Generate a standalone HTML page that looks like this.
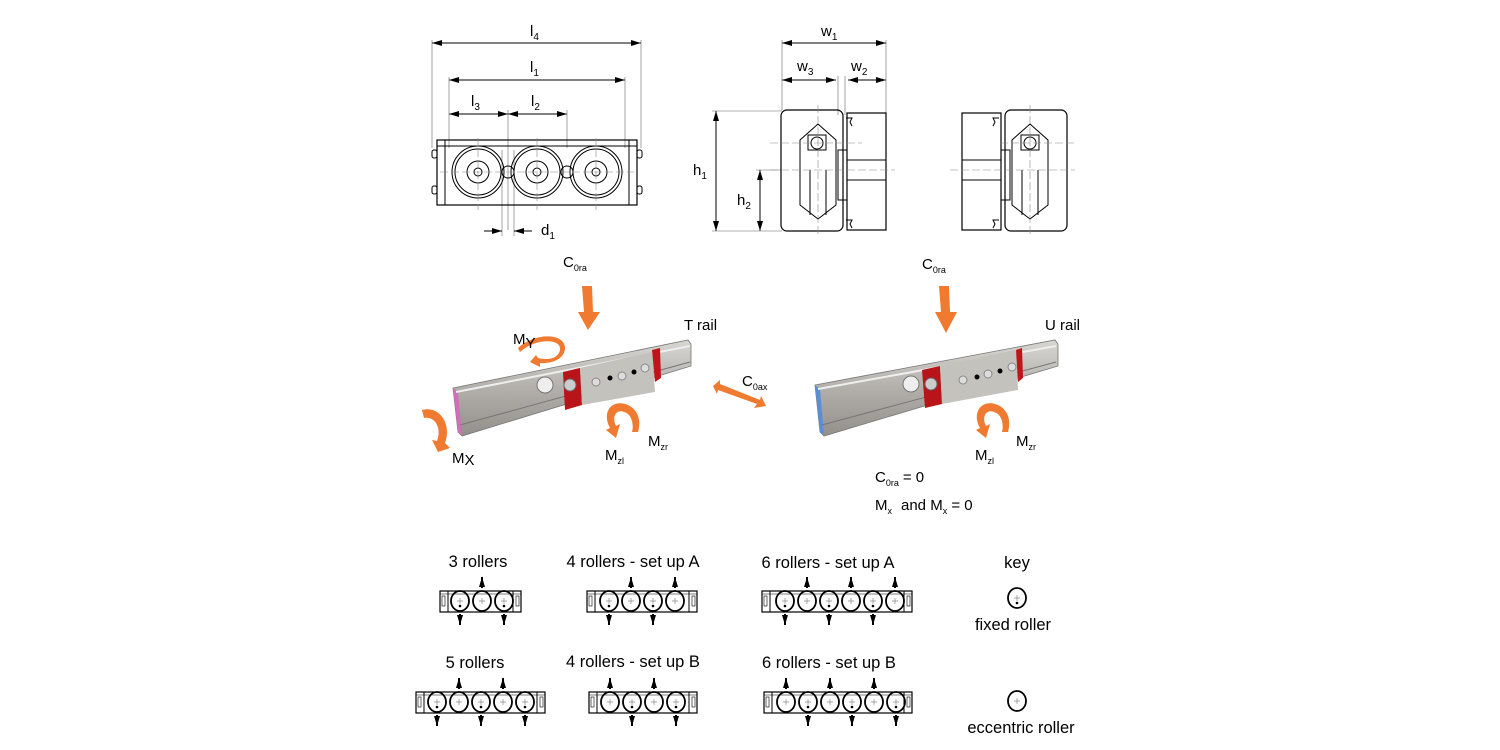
<!DOCTYPE html>
<html><head><meta charset="utf-8"><style>
html,body{margin:0;padding:0;background:#fff;}
svg{display:block;font-family:"Liberation Sans",sans-serif;}
</style></head><body>
<svg id="s" width="1500" height="750" viewBox="0 0 1500 750" xmlns="http://www.w3.org/2000/svg">
<defs>
<marker id="a" viewBox="0 0 10 6" refX="10" refY="3" markerWidth="10" markerHeight="6" orient="auto-start-reverse" markerUnits="userSpaceOnUse"><path d="M0,0L10,3L0,6z" fill="#000"/></marker>
<linearGradient id="rg" x1="0" y1="0" x2="0" y2="1"><stop offset="0" stop-color="#d8d6d2"/><stop offset="0.5" stop-color="#b3b0ab"/><stop offset="1" stop-color="#938f8a"/></linearGradient>
</defs>
<g stroke="#000" stroke-width="1" fill="none">
<line x1="432" y1="43" x2="641" y2="43" marker-start="url(#a)" marker-end="url(#a)"/>
<line x1="449" y1="80" x2="625" y2="80" marker-start="url(#a)" marker-end="url(#a)"/>
<line x1="449" y1="114" x2="508" y2="114" marker-start="url(#a)" marker-end="url(#a)"/>
<line x1="508" y1="114" x2="567" y2="114" marker-start="url(#a)" marker-end="url(#a)"/>
<g stroke="#666" stroke-width="0.6">
<line x1="432" y1="40" x2="432" y2="148"/><line x1="641" y1="40" x2="641" y2="148"/>
<line x1="449" y1="77" x2="449" y2="148"/><line x1="625" y1="77" x2="625" y2="148"/>
<line x1="508" y1="110" x2="508" y2="230"/><line x1="567" y1="110" x2="567" y2="148"/>
<line x1="502" y1="150" x2="502" y2="236"/><line x1="514" y1="150" x2="514" y2="236"/>
</g>
<line x1="484" y1="231" x2="502" y2="231" marker-end="url(#a)"/>
<line x1="532" y1="231" x2="514" y2="231" marker-end="url(#a)"/>
<rect x="437" y="140" width="200" height="65" stroke-width="1.2"/>
<line x1="437" y1="146" x2="637" y2="146"/><line x1="445" y1="140" x2="445" y2="205"/><line x1="629" y1="140" x2="629" y2="205"/>
<rect x="432" y="150" width="5" height="8" rx="2"/><rect x="432" y="186" width="5" height="8" rx="2"/>
<rect x="637" y="150" width="5" height="8" rx="2"/><rect x="637" y="186" width="5" height="8" rx="2"/>
<g>
<circle cx="478" cy="172" r="26"/><circle cx="478" cy="172" r="23"/><circle cx="478" cy="172" r="11"/><circle cx="478" cy="172" r="4"/>
<circle cx="537" cy="172" r="26"/><circle cx="537" cy="172" r="23"/><circle cx="537" cy="172" r="11"/><circle cx="537" cy="172" r="4"/>
<circle cx="596" cy="172" r="26"/><circle cx="596" cy="172" r="23"/><circle cx="596" cy="172" r="11"/><circle cx="596" cy="172" r="4"/>
<circle cx="508" cy="172" r="6"/><circle cx="567" cy="172" r="6"/>
</g>
<g stroke="#888" stroke-width="0.6" stroke-dasharray="8,3">
<line x1="440" y1="172" x2="634" y2="172"/>
<line x1="478" y1="138" x2="478" y2="210"/><line x1="537" y1="138" x2="537" y2="210"/><line x1="596" y1="138" x2="596" y2="210"/>
</g>
<line x1="782" y1="43" x2="886" y2="43" marker-start="url(#a)" marker-end="url(#a)"/>
<line x1="782" y1="80" x2="836" y2="80" marker-start="url(#a)" marker-end="url(#a)"/>
<line x1="848" y1="80" x2="886" y2="80" marker-start="url(#a)" marker-end="url(#a)"/>
<line x1="716" y1="111" x2="716" y2="231" marker-start="url(#a)" marker-end="url(#a)"/>
<line x1="760" y1="170" x2="760" y2="231" marker-start="url(#a)" marker-end="url(#a)"/>
<g stroke="#666" stroke-width="0.6">
<line x1="782" y1="40" x2="782" y2="110"/><line x1="886" y1="40" x2="886" y2="113"/>
<line x1="838" y1="76" x2="838" y2="115"/><line x1="845" y1="76" x2="845" y2="115"/>
<line x1="712" y1="111" x2="782" y2="111"/><line x1="712" y1="231" x2="782" y2="231"/><line x1="756" y1="170" x2="782" y2="170"/>
</g>
<rect x="781" y="110" width="62" height="121" rx="6" stroke-width="1.2"/>
<rect x="847" y="113" width="39" height="117" stroke-width="1.2"/>
<path d="M800,140 L818,124 L836,140 L836,205 L818,219 L800,205 Z"/>
<rect x="808" y="135" width="18" height="15"/><circle cx="817" cy="143" r="6"/>
<line x1="810" y1="170" x2="810" y2="215"/><line x1="826" y1="170" x2="826" y2="215"/>
<rect x="838" y="150" width="9" height="50"/>
<rect x="847" y="160" width="39" height="20"/>
<g stroke="#888" stroke-width="0.6" stroke-dasharray="8,3">
<line x1="770" y1="143" x2="862" y2="143"/><line x1="770" y1="170" x2="895" y2="170"/><line x1="818" y1="105" x2="818" y2="237"/>
</g>
<path d="M846,118 l6,0 l-2,4 l2,4" /><path d="M846,220 l6,0 l-2,4 l2,4"/>
<rect x="962" y="113" width="39" height="117" stroke-width="1.2"/>
<rect x="1005" y="110" width="62" height="121" rx="6" stroke-width="1.2"/>
<path d="M1012,140 L1030,124 L1048,140 L1048,205 L1030,219 L1012,205 Z"/>
<rect x="1021" y="135" width="18" height="15"/><circle cx="1030" cy="143" r="6"/>
<line x1="1022" y1="170" x2="1022" y2="215"/><line x1="1038" y1="170" x2="1038" y2="215"/>
<rect x="1001" y="150" width="9" height="50"/>
<rect x="962" y="160" width="39" height="20"/>
<g stroke="#888" stroke-width="0.6" stroke-dasharray="8,3">
<line x1="950" y1="170" x2="1075" y2="170"/><line x1="1000" y1="143" x2="1075" y2="143"/><line x1="1030" y1="105" x2="1030" y2="237"/>
</g>
<path d="M999,118 l-6,0 l2,4 l-2,4" /><path d="M999,220 l-6,0 l2,4 l-2,4"/>
</g>
<g font-size="15" fill="#000">
<text x="530" y="36">l<tspan font-size="10" dy="4">4</tspan></text>
<text x="530" y="72">l<tspan font-size="10" dy="4">1</tspan></text>
<text x="471" y="106">l<tspan font-size="10" dy="4">3</tspan></text>
<text x="531" y="106">l<tspan font-size="10" dy="4">2</tspan></text>
<text x="541" y="235">d<tspan font-size="10" dy="4">1</tspan></text>
<text x="821" y="36">w<tspan font-size="10" dy="4">1</tspan></text>
<text x="797" y="71">w<tspan font-size="10" dy="4">3</tspan></text>
<text x="851" y="71">w<tspan font-size="10" dy="4">2</tspan></text>
<text x="693" y="175">h<tspan font-size="10" dy="4">1</tspan></text>
<text x="737" y="205">h<tspan font-size="10" dy="4">2</tspan></text>
</g>
<!-- T rail -->
<polygon points="453,388 688,340 691,344 691,366 462,436 458,432" fill="url(#rg)" stroke="#777" stroke-width="0.8"/>
<polygon points="453,388 458,392 462,436 458,432" fill="#d070b8"/>
<line x1="456" y1="392" x2="690" y2="346" stroke="#eee" stroke-width="2"/>
<line x1="460" y1="425" x2="690" y2="362" stroke="#777" stroke-width="1"/>
<polygon points="563,372 580,368 582,405 565,410" fill="#b8141a"/>
<polygon points="580,368 652,352 655,392 582,405" fill="#c4c2bd"/>
<polygon points="652,350 660,348 661,378 655,382" fill="#c0141a"/>
<circle cx="545" cy="385" r="8" fill="#eee" stroke="#777"/>
<circle cx="570" cy="385" r="6" fill="#ccc" stroke="#666"/>
<circle cx="596" cy="382" r="4" fill="#ddd" stroke="#888"/><circle cx="610" cy="378" r="2.5" fill="#000"/>
<circle cx="622" cy="376" r="4" fill="#ddd" stroke="#888"/><circle cx="634" cy="372" r="2.5" fill="#000"/>
<circle cx="645" cy="368" r="4" fill="#ddd" stroke="#888"/>
<!-- U rail -->
<polygon points="815,385 1055,340 1058,344 1058,366 824,436 820,432" fill="url(#rg)" stroke="#777" stroke-width="0.8"/>
<polygon points="815,385 820,389 824,436 820,432" fill="#5b8ed8"/>
<line x1="818" y1="389" x2="1056" y2="346" stroke="#eee" stroke-width="2"/>
<line x1="822" y1="425" x2="1056" y2="362" stroke="#777" stroke-width="1"/>
<polygon points="922,370 940,366 942,404 925,408" fill="#b8141a"/>
<polygon points="940,366 1016,350 1018,390 942,404" fill="#c4c2bd"/>
<polygon points="1016,350 1022,348 1023,378 1018,382" fill="#c0141a"/>
<circle cx="911" cy="384" r="8" fill="#eee" stroke="#777"/>
<circle cx="931" cy="384" r="6" fill="#ccc" stroke="#666"/>
<circle cx="963" cy="380" r="4" fill="#ddd" stroke="#888"/><circle cx="977" cy="377" r="2.5" fill="#000"/>
<circle cx="988" cy="374" r="4" fill="#ddd" stroke="#888"/><circle cx="1000" cy="371" r="2.5" fill="#000"/>
<circle cx="1012" cy="367" r="4" fill="#ddd" stroke="#888"/>
<g fill="#f07a30">
<polygon points="582,286 592,286 593,312 600,312 588,330 578,312 584,312"/>
<polygon points="939,286 949,286 950,312 957,312 946,333 935,312 941,312"/>
<polygon points="713,386 720,380 720,384 760,400 761,396 766,406 754,408 757,404 718,390 717,394"/>
<path d="M520,352 C535,338 562,338 560,350 C558,360 545,360 538,358 L536,355 L530,362 L540,367 L540,363 C555,364 565,357 565,348 C565,333 535,332 518,348 Z"/>
<path d="M422,410 C440,405 452,425 445,443 L450,448 L438,452 L432,440 L437,441 C442,428 435,416 424,418 Z"/>
<path d="M625,404 C610,400 602,414 610,428 L606,430 L616,438 L620,424 L616,426 C611,416 617,409 624,412 C632,414 634,425 632,432 L638,432 C642,418 636,407 625,404 Z"/>
<path d="M995,404 C980,400 972,414 980,428 L976,430 L986,438 L990,424 L986,426 C981,416 987,409 994,412 C1002,414 1004,425 1002,432 L1008,432 C1012,418 1006,407 995,404 Z"/>
</g>
<g font-size="15" fill="#000">
<text x="563" y="267">C<tspan font-size="9" dy="4">0ra</tspan></text>
<text x="922" y="269">C<tspan font-size="9" dy="4">0ra</tspan></text>
<text x="684" y="330">T rail</text>
<text x="1045" y="330">U rail</text>
<text x="513" y="344">M<tspan dy="4">Y</tspan></text>
<text x="742" y="386">C<tspan font-size="9" dy="4">0ax</tspan></text>
<text x="452" y="463">M<tspan dy="2">X</tspan></text>
<text x="605" y="460">M<tspan font-size="9" dy="4">zl</tspan></text>
<text x="648" y="446">M<tspan font-size="9" dy="4">zr</tspan></text>
<text x="975" y="460">M<tspan font-size="9" dy="4">zl</tspan></text>
<text x="1016" y="446">M<tspan font-size="9" dy="4">zr</tspan></text>
<text x="875" y="482">C<tspan font-size="9" dy="4">0ra</tspan><tspan dy="-4" dx="4">= 0</tspan></text>
<text x="875" y="510">M<tspan font-size="9" dy="4">x</tspan><tspan dy="-4" dx="9">and M</tspan><tspan font-size="9" dy="4">x</tspan><tspan dy="-4"> = 0</tspan></text>
<g font-size="16.5" text-anchor="middle">
<text x="478" y="567">3 rollers</text>
<text x="633" y="567">4 rollers - set up A</text>
<text x="828" y="568">6 rollers - set up A</text>
<text x="1017" y="568">key</text>
<text x="1013" y="630">fixed roller</text>
<text x="475" y="668">5 rollers</text>
<text x="633" y="667">4 rollers - set up B</text>
<text x="829" y="668">6 rollers - set up B</text>
<text x="1021" y="733">eccentric roller</text>
</g>
</g>
<g id="small" stroke="#000" fill="none"></g>
</svg>
<script>
var g=document.getElementById('small'),h='';
function frame(x1,x2,y,cs,ups,downs){
 h+='<rect x="'+x1+'" y="'+(y-10)+'" width="'+(x2-x1)+'" height="21" stroke-width="1.2"/>';
 h+='<line x1="'+(x1+8)+'" y1="'+(y-10)+'" x2="'+(x1+8)+'" y2="'+(y+11)+'"/><line x1="'+(x2-8)+'" y1="'+(y-10)+'" x2="'+(x2-8)+'" y2="'+(y+11)+'"/>';
 h+='<line x1="'+x1+'" y1="'+(y-7)+'" x2="'+x2+'" y2="'+(y-7)+'" stroke-width="0.6"/>';
 h+='<rect x="'+(x1+2)+'" y="'+(y-5)+'" width="3" height="10" stroke-width="0.6"/><rect x="'+(x2-5)+'" y="'+(y-5)+'" width="3" height="10" stroke-width="0.6"/>';
 cs.forEach(function(c){ roller(c,y,downs.indexOf(c)>=0);});
 ups.forEach(function(c){h+='<line x1="'+c+'" y1="'+(y-13)+'" x2="'+c+'" y2="'+(y-24)+'" stroke-width="2" marker-end="url(#a)"/>';});
 downs.forEach(function(c){h+='<line x1="'+c+'" y1="'+(y+13)+'" x2="'+c+'" y2="'+(y+24)+'" stroke-width="2" marker-end="url(#a)"/>';});
}
function roller(c,y,f){
 h+='<ellipse cx="'+c+'" cy="'+y+'" rx="9" ry="10" stroke-width="1.8"/>';
 h+='<path d="M'+(c-3)+','+y+'h6M'+c+','+(y-3)+'v6" stroke="#888" stroke-width="0.7"/>';
 if(f) h+='<circle cx="'+c+'" cy="'+(y+5)+'" r="1.3" fill="#000" stroke="none"/>';
}
frame(440,521,601,[460,482,504],[482],[460,504]);
frame(587,697,601,[609,631,653,675],[631,675],[609,653]);
frame(762,912,601,[785,807,829,851,873,895],[807,851,895],[785,829,873]);
frame(416,545,702,[437,459,481,503,525],[459,503],[437,481,525]);
frame(589,697,702,[610,632,654,676],[610,654],[632,676]);
frame(764,912,702,[786,808,830,852,874,896],[786,830,874],[808,852,896]);
roller(1017,598,true);roller(1017,701,false);
g.innerHTML=h;
</script>
</body></html>
